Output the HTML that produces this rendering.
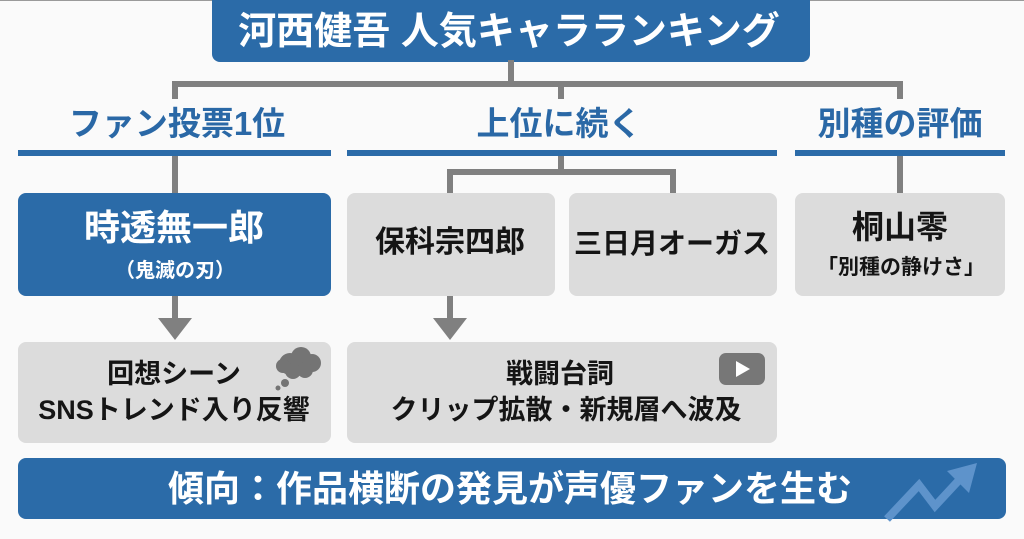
<!DOCTYPE html>
<html><head><meta charset="utf-8"><style>
html,body{margin:0;padding:0;}
body{width:1024px;height:539px;overflow:hidden;background:#fafafa;position:relative;font-family:"Liberation Sans","Noto Sans CJK JP",sans-serif;font-weight:700;}
svg{position:absolute;left:0;top:0;}
.t{position:absolute;white-space:nowrap;text-align:center;line-height:1;transform:translateX(-50%);}
.w{color:#fff;}
.b{color:#2a68a6;}
.k{color:#151515;}
</style></head><body>
<svg width="1024" height="539" viewBox="0 0 1024 539">
  <rect x="0" y="0" width="1024" height="1" fill="#9a9a9a"/>
  <!-- title box -->
  <rect x="212" y="-10" width="598" height="72" rx="8" fill="#2b6ba8"/>
  <!-- top connectors -->
  <g fill="#808080">
    <rect x="508" y="60" width="6" height="27"/>
    <rect x="172" y="81" width="731" height="6"/>
    <rect x="172" y="81" width="6" height="18"/>
    <rect x="558" y="81" width="6" height="18"/>
    <rect x="897" y="81" width="6" height="18"/>
    <!-- below headers -->
    <rect x="172" y="154" width="6" height="40"/>
    <rect x="558" y="154" width="6" height="20"/>
    <rect x="447" y="169" width="229" height="6"/>
    <rect x="447" y="169" width="6" height="25"/>
    <rect x="670" y="169" width="6" height="25"/>
    <rect x="897" y="154" width="6" height="40"/>
    <!-- arrows -->
    <rect x="172" y="294" width="6" height="26"/>
    <polygon points="158,318 192,318 175,340"/>
    <rect x="447" y="294" width="6" height="26"/>
    <polygon points="433,318 467,318 450,340"/>
  </g>
  <!-- header underlines -->
  <g fill="#2b6ba8">
    <rect x="18" y="150" width="313" height="6"/>
    <rect x="347" y="150" width="430" height="6"/>
    <rect x="795" y="150" width="210" height="6"/>
  </g>
  <!-- row 1 boxes -->
  <rect x="18" y="193" width="313" height="103" rx="8" fill="#2b6ba8"/>
  <rect x="347" y="193" width="208" height="103" rx="8" fill="#dcdcdc"/>
  <rect x="569" y="193" width="208" height="103" rx="8" fill="#dcdcdc"/>
  <rect x="795" y="193" width="210" height="103" rx="8" fill="#dcdcdc"/>
  <!-- row 2 boxes -->
  <rect x="18" y="342" width="313" height="101" rx="8" fill="#dcdcdc"/>
  <rect x="347" y="342" width="430" height="101" rx="8" fill="#dcdcdc"/>
  <!-- cloud icon -->
  <g fill="#747474">
    <circle cx="290" cy="364" r="11"/>
    <circle cx="301" cy="357" r="10"/>
    <circle cx="312" cy="363" r="9"/>
    <circle cx="305" cy="370" r="8"/>
    <circle cx="293" cy="371" r="8"/>
    <circle cx="283" cy="366" r="7"/>
    <circle cx="285" cy="383" r="4"/>
    <circle cx="278" cy="388" r="2.5"/>
  </g>
  <!-- youtube icon -->
  <rect x="719" y="353" width="46" height="32" rx="7" fill="#777"/>
  <polygon points="736,361 736,377 750,369" fill="#fff"/>
  <!-- banner -->
  <rect x="18" y="458" width="988" height="61" rx="8" fill="#2b6ba8"/>
  <!-- trend arrow -->
  <g>
    <polyline points="887,519 919,485 935,506 961,478" fill="none" stroke="#5e93cb" stroke-width="8" stroke-linejoin="miter"/>
    <polygon points="977,463 947,471 969,493" fill="#5e93cb"/>
  </g>
</svg>

<div class="t w" style="left:509px;top:13px;font-size:38px;">河西健吾 人気キャラランキング</div>

<div class="t b" style="left:177px;top:107px;font-size:33px;">ファン投票1位</div>
<div class="t b" style="left:559px;top:107px;font-size:33px;">上位に続く</div>
<div class="t b" style="left:900px;top:107px;font-size:33px;">別種の評価</div>

<div class="t w" style="left:174px;top:210px;font-size:36px;">時透無一郎</div>
<div class="t w" style="left:175px;top:261px;font-size:20px;">（鬼滅の刃）</div>

<div class="t k" style="left:450px;top:228px;font-size:30px;">保科宗四郎</div>
<div class="t k" style="left:672px;top:230px;font-size:28px;">三日月オーガス</div>

<div class="t k" style="left:900px;top:211px;font-size:32px;">桐山零</div>
<div class="t k" style="left:901px;top:257px;font-size:21px;">「別種の静けさ」</div>

<div class="t k" style="left:174px;top:361px;font-size:27px;">回想シーン</div>
<div class="t k" style="left:174px;top:397px;font-size:27px;">SNSトレンド入り反響</div>

<div class="t k" style="left:560px;top:361px;font-size:27px;">戦闘台詞</div>
<div class="t k" style="left:566px;top:397px;font-size:27px;">クリップ拡散・新規層へ波及</div>

<div class="t w" style="left:510px;top:471px;font-size:36px;">傾向：作品横断の発見が声優ファンを生む</div>
</body></html>
